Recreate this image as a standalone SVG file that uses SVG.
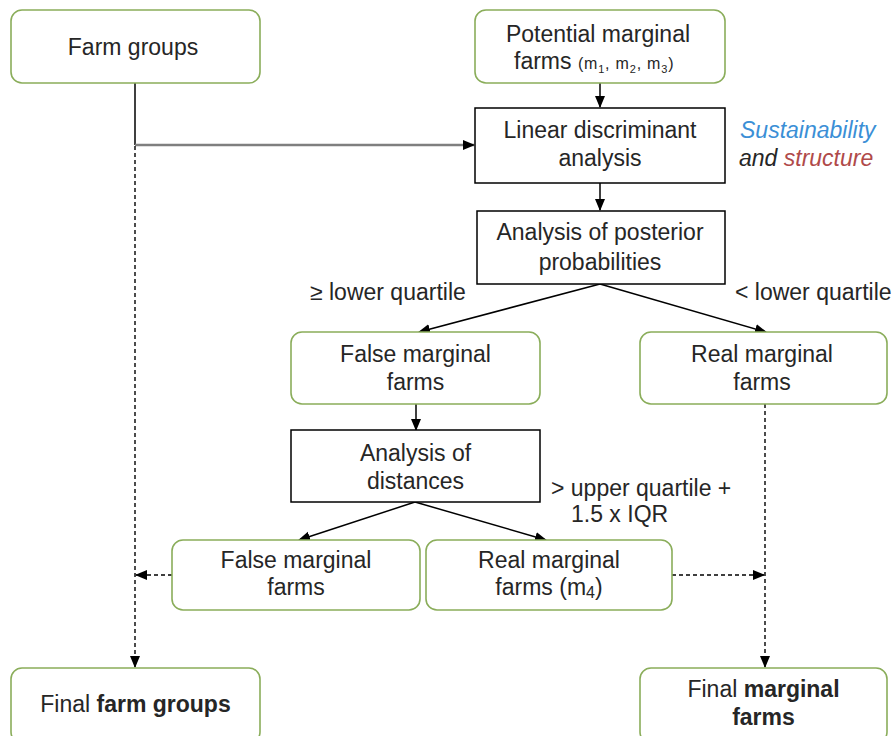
<svg xmlns="http://www.w3.org/2000/svg" width="892" height="736" viewBox="0 0 892 736">
<defs>
<marker id="arr" markerUnits="userSpaceOnUse" markerWidth="12" markerHeight="12" viewBox="0 0 12 12" refX="11" refY="6" orient="auto">
<path d="M0,1 L12,6 L0,11 Z" fill="#000"/>
</marker>
<style>
.g{fill:#fff;stroke:#8aad5a;stroke-width:1.6}
.b{fill:#fff;stroke:#000;stroke-width:1.5}
text{font-family:"Liberation Sans",Arial,sans-serif;font-size:23px;fill:#262626}
.c{text-anchor:middle}
.ln{stroke:#000;stroke-width:1.5;fill:none}
.d{stroke:#000;stroke-width:1.4;fill:none;stroke-dasharray:4 3}
</style>
</defs>
<rect width="892" height="736" fill="#fff"/>
<g id="connectors">
<line class="ln" x1="135" y1="83" x2="135" y2="145"/>
<line x1="135" y1="145" x2="474" y2="145" stroke="#7f7f7f" stroke-width="2.5" marker-end="url(#arr)"/>
<line class="ln" x1="600" y1="83" x2="600" y2="107" marker-end="url(#arr)"/>
<line class="ln" x1="600" y1="183" x2="600" y2="210" marker-end="url(#arr)"/>
<line class="ln" x1="600" y1="284" x2="419" y2="332" marker-end="url(#arr)"/>
<line class="ln" x1="600" y1="284" x2="766" y2="332" marker-end="url(#arr)"/>
<line class="ln" x1="416" y1="404" x2="416" y2="430" marker-end="url(#arr)"/>
<line class="ln" x1="415" y1="502" x2="299" y2="540" marker-end="url(#arr)"/>
<line class="ln" x1="415" y1="502" x2="546" y2="540" marker-end="url(#arr)"/>
<line class="d" x1="135" y1="146" x2="135" y2="667" marker-end="url(#arr)"/>
<line class="d" x1="765" y1="404" x2="765" y2="667" marker-end="url(#arr)"/>
<line class="d" x1="172" y1="575" x2="136" y2="575" marker-end="url(#arr)"/>
<line class="d" x1="672" y1="575" x2="764" y2="575" marker-end="url(#arr)"/>
</g>
<g id="farm-groups">
<rect class="g" x="11" y="10" width="249" height="73" rx="11"/>
<text class="c" x="133" y="55">Farm groups</text>
</g>
<g id="potential-marginal">
<rect class="g" x="475" y="10" width="250" height="73" rx="11"/>
<text class="c" x="598" y="42">Potential marginal</text>
<text x="514" y="69">farms <tspan font-size="16" letter-spacing="0.8">(m<tspan font-size="11" dy="4">1</tspan><tspan dy="-4">, m</tspan><tspan font-size="11" dy="4">2</tspan><tspan dy="-4">, m</tspan><tspan font-size="11" dy="4">3</tspan><tspan dy="-4">)</tspan></tspan></text>
</g>
<g id="lda">
<rect class="b" x="475" y="108" width="250" height="75"/>
<text class="c" x="600" y="138">Linear discriminant</text>
<text class="c" x="600" y="166">analysis</text>
</g>
<g id="sust-label">
<text x="740" y="138" font-style="italic" style="fill:#3b8fd6">Sustainability</text>
<text x="739" y="166" font-style="italic">and <tspan style="fill:#b04a4a">structure</tspan></text>
</g>
<g id="posterior">
<rect class="b" x="477" y="211" width="248" height="73"/>
<text class="c" x="600" y="240">Analysis of posterior</text>
<text class="c" x="600" y="270">probabilities</text>
</g>
<text x="310" y="300">≥ lower quartile</text>
<text x="735" y="300">&lt; lower quartile</text>
<g id="false-marginal-1">
<rect class="g" x="291" y="332" width="249" height="72" rx="11"/>
<text class="c" x="415.5" y="362">False marginal</text>
<text class="c" x="415.5" y="390">farms</text>
</g>
<g id="real-marginal-1">
<rect class="g" x="640" y="332" width="247" height="72" rx="11"/>
<text class="c" x="762" y="362">Real marginal</text>
<text class="c" x="762" y="390">farms</text>
</g>
<g id="distances">
<rect class="b" x="291" y="430" width="249" height="72"/>
<text class="c" x="415.5" y="461">Analysis of</text>
<text class="c" x="415.5" y="489">distances</text>
</g>
<text x="551" y="496">&gt; upper quartile +</text>
<text x="571" y="522">1.5 x IQR</text>
<g id="false-marginal-2">
<rect class="g" x="172" y="540" width="248" height="70" rx="11"/>
<text class="c" x="296" y="568">False marginal</text>
<text class="c" x="296" y="595">farms</text>
</g>
<g id="real-marginal-2">
<rect class="g" x="426" y="540" width="246" height="70" rx="11"/>
<text class="c" x="549" y="568">Real marginal</text>
<text class="c" x="549" y="595">farms (m<tspan font-size="16" dy="3">4</tspan><tspan dy="-3">)</tspan></text>
</g>
<g id="final-farm-groups">
<rect class="g" x="11" y="668" width="249" height="75" rx="11"/>
<text class="c" x="135.5" y="712">Final <tspan font-weight="bold">farm groups</tspan></text>
</g>
<g id="final-marginal">
<rect class="g" x="640" y="668" width="247" height="75" rx="11"/>
<text class="c" x="763.5" y="697">Final <tspan font-weight="bold">marginal</tspan></text>
<text class="c" x="763.5" y="725" font-weight="bold">farms</text>
</g>
</svg>
